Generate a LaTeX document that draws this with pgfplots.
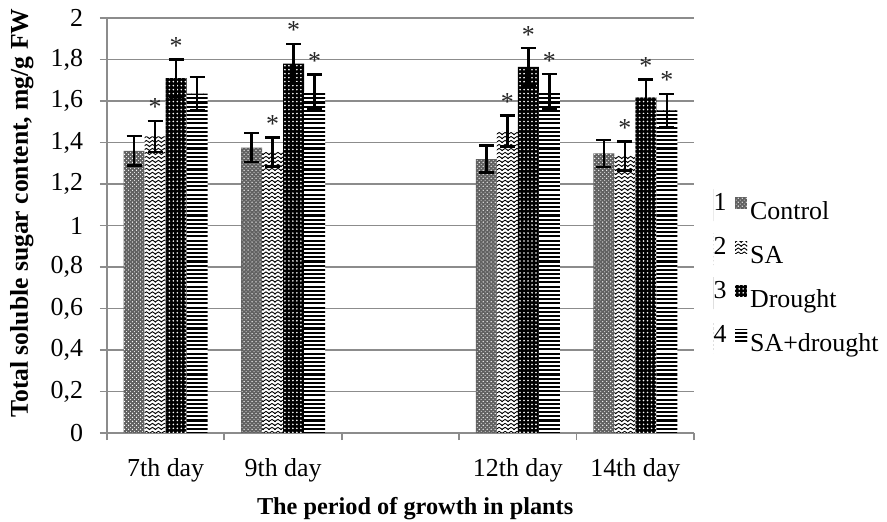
\documentclass[border=0pt]{standalone}
\usepackage{fontspec}
\setmainfont{Liberation Serif}
\usepackage{pgfplots}
\pgfplotsset{compat=1.18}
\usepackage{pgfplotstable}
\usetikzlibrary{patterns}

\pgfdeclarepatternformonly{fdots}{\pgfqpoint{-0.6pt}{-0.6pt}}{\pgfqpoint{2.6pt}{2.6pt}}{\pgfqpoint{2pt}{2pt}}{%
  \pgfpathcircle{\pgfqpoint{1pt}{1pt}}{0.45pt}\pgfusepath{fill}}
\pgfdeclarepatternformonly{cdots}{\pgfqpoint{-0.6pt}{-0.6pt}}{\pgfqpoint{2.6pt}{2.6pt}}{\pgfqpoint{2pt}{2pt}}{%
  \pgfpathcircle{\pgfqpoint{0.5pt}{0.5pt}}{0.35pt}\pgfusepath{fill}\pgfpathcircle{\pgfqpoint{1.5pt}{1.5pt}}{0.25pt}\pgfusepath{fill}}
\pgfdeclarepatternformonly{zigzag}{\pgfqpoint{-0.5pt}{-0.5pt}}{\pgfqpoint{3.5pt}{2.5pt}}{\pgfqpoint{3pt}{2pt}}{%
  \pgfsetlinewidth{0.45pt}\pgfpathmoveto{\pgfqpoint{-0.3pt}{0.3pt}}\pgfpathlineto{\pgfqpoint{1.5pt}{1.5pt}}\pgfpathlineto{\pgfqpoint{3.3pt}{0.3pt}}\pgfusepath{stroke}}
\pgfdeclarepatternformonly{hthick}{\pgfqpoint{-0.2pt}{0pt}}{\pgfqpoint{3.2pt}{2.1pt}}{\pgfqpoint{3pt}{2.1pt}}{%
  \pgfpathrectangle{\pgfqpoint{-0.2pt}{0pt}}{\pgfqpoint{3.4pt}{1.05pt}}\pgfusepath{fill}}

% x: 0=7th day, 1=9th day, 3=12th day, 4=14th day
\pgfplotstableread{
x y err star
0 1.360 0.070 {}
1 1.375 0.070 {}
3 1.320 0.065 {}
4 1.348 0.065 {}
}\control
\pgfplotstableread{
x y err star
0 1.430 0.075 *
1 1.355 0.070 *
3 1.455 0.075 *
4 1.335 0.070 *
}\sa
\pgfplotstableread{
x y err star
0 1.710 0.090 *
1 1.780 0.095 *
3 1.765 0.090 *
4 1.618 0.085 *
}\drought
\pgfplotstableread{
x y err star
0 1.635 0.080 {}
1 1.645 0.083 *
3 1.645 0.085 *
4 1.555 0.080 *
}\sadrought

\begin{document}
\begin{tikzpicture}
\begin{axis}[
  scale only axis,
  width=293.5bp, height=207.5bp,
  ybar=0pt, bar width=10.5bp,
  xmin=-0.5, xmax=4.5, ymin=0, ymax=2,
  axis x line*=bottom, axis y line*=left,
  axis line style={draw=black!45, line width=0.9bp},
  xtick={0,1,3,4},
  xticklabels={7th day, 9th day, 12th day, 14th day},
  minor xtick={-0.5,0.5,1.5,2.5,3.5,4.5},
  ytick={0,0.2,0.4,0.6,0.8,1,1.2,1.4,1.6,1.8,2},
  tick align=outside,
  major tick length=3.5bp, minor tick length=3.5bp,
  tick style={draw=black!45, line width=0.9bp},
  major x tick style={draw=none},
  ymajorgrids, grid style={draw=black!45, line width=0.9bp},
  /pgf/number format/.cd, use comma, assume math mode=true, /pgfplots/.cd,
  ticklabel style={font=\fontsize{13}{15}\selectfont},
  xticklabel style={anchor=base, yshift=-18bp},
  yticklabel style={xshift=-5bp},
  xlabel={The period of growth in plants},
  ylabel={Total soluble sugar content, mg/g FW},
  xlabel style={font=\fontsize{12.2}{14}\selectfont\bfseries, at={(axis description cs:0.525,-0.183)}, anchor=center},
  ylabel style={font=\fontsize{12.85}{14}\selectfont\bfseries, at={(axis description cs:-0.145,0.53)}, anchor=center},
  legend style={draw=none, fill=none, inner sep=0pt, at={(1.032,0.385)}, anchor=west,
    font=\fontsize{13}{15}\selectfont, row sep=4bp, column sep=1.5bp,
    nodes={inner sep=0pt, text height=9bp, text depth=3bp}},
  legend cell align=left,
  numleg/.style={legend image code/.code={%
    \path (0bp,-4bp) -- (0bp,12bp);
    \node[anchor=base west, inner sep=0pt] at (0bp,1.5bp) {#1};
    \path[##1, draw=none] (11bp,2bp) rectangle (17bp,8bp);}},
  error bars/y dir=both, error bars/y explicit,
  error bars/error bar style={black, line width=1.2bp},
  error bars/error mark options={black, rotate=90, mark size=3.75bp, line width=1.2bp},
  point meta=explicit symbolic,
  nodes near coords={\pgfplotspointmeta},
  visualization depends on=\thisrow{err}\as\errv,
  nodes near coords style={font=\fontsize{13}{15}\selectfont, text=black!85, anchor=base, inner sep=0pt,
    shift={(axis direction cs:0,\errv)}, yshift=2.5bp},
]
\addplot[draw=none, preaction={fill=black!62}, pattern=cdots, pattern color=white, numleg=1]
  table[x=x, y=y, y error=err, meta=star] {\control};
\addplot[draw=none, preaction={fill=white}, pattern=zigzag, pattern color=black, numleg=2]
  table[x=x, y=y, y error=err, meta=star] {\sa};
\addplot[draw=none, preaction={fill=black}, pattern=fdots, pattern color=white, numleg=3]
  table[x=x, y=y, y error=err, meta=star] {\drought};
\addplot[draw=none, preaction={fill=white}, pattern=hthick, pattern color=black, numleg=4]
  table[x=x, y=y, y error=err, meta=star] {\sadrought};
\legend{Control, SA, Drought, SA+drought}
\end{axis}
\pgfresetboundingbox
\path[use as bounding box] (-53.5bp,-44.5bp) rectangle (390bp,216.5bp);
\end{tikzpicture}
\end{document}
